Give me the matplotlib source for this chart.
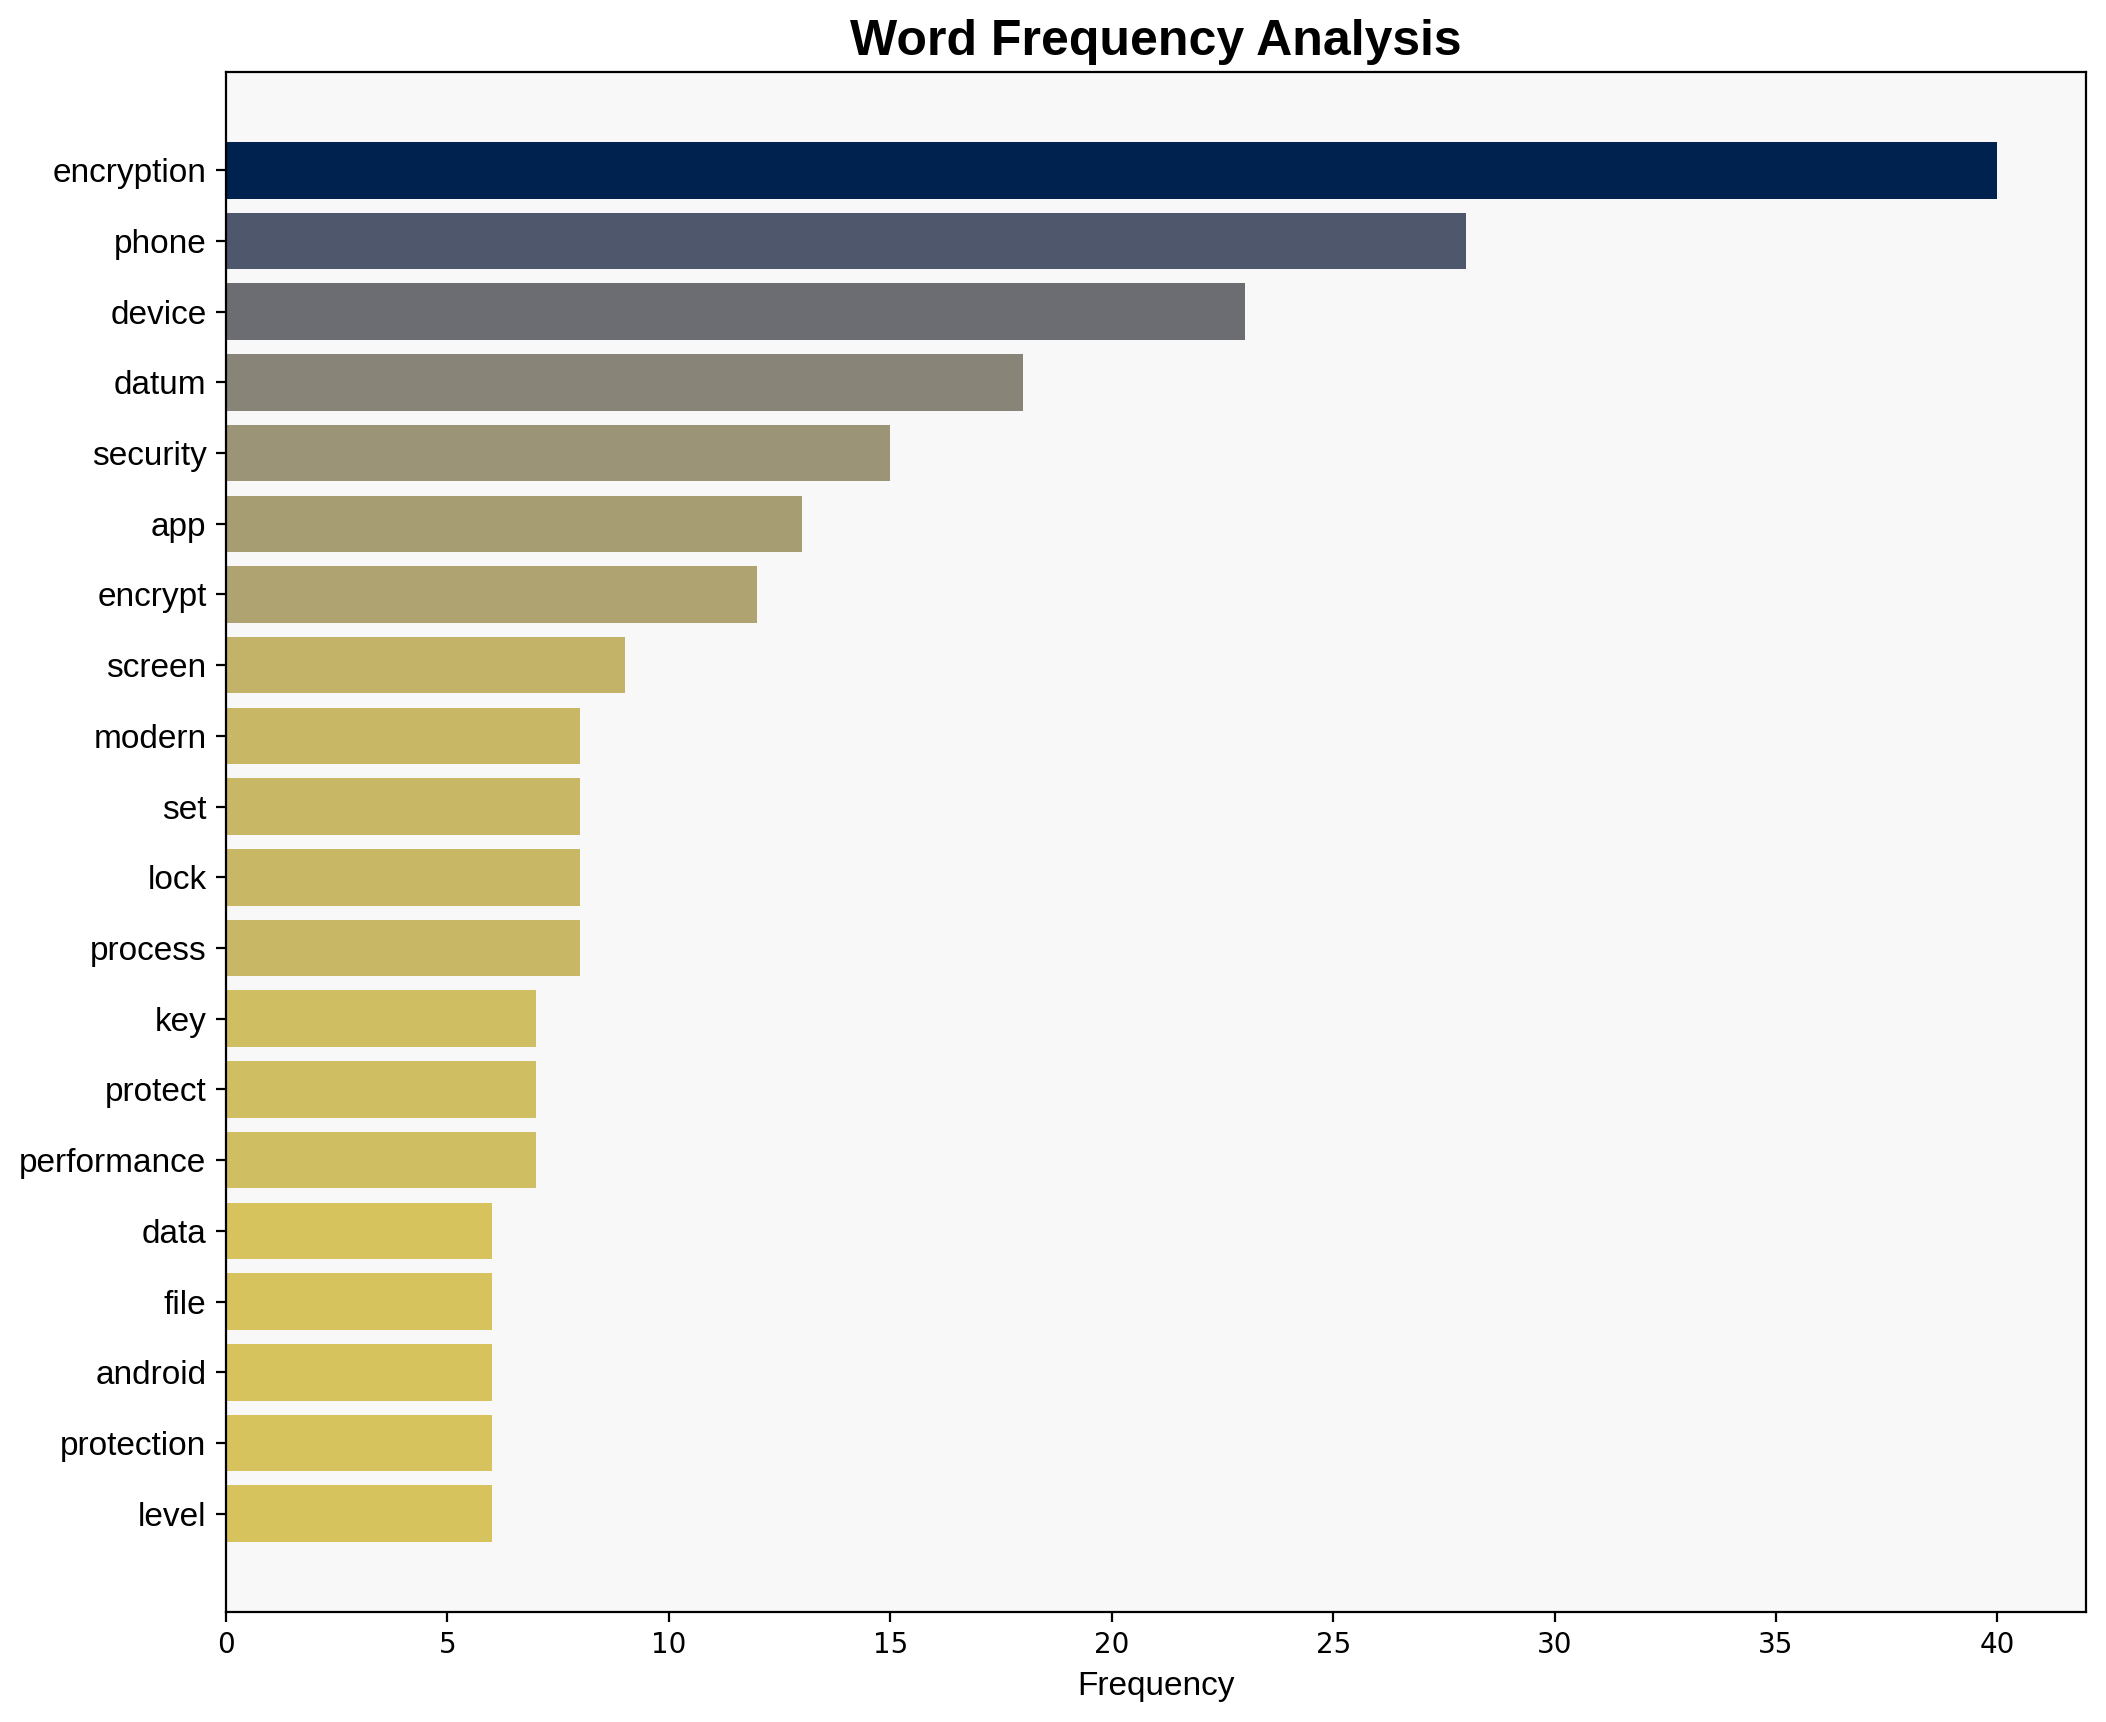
import matplotlib
matplotlib.use("Agg")
import matplotlib.pyplot as plt
import numpy as np

# 词频数据
words = ["encryption", "phone", "device", "datum", "security", "app", "encrypt",
         "screen", "modern", "set", "lock", "process", "key", "protect",
         "performance", "data", "file", "android", "protection", "level"]
counts = [40, 28, 23, 18, 15, 13, 12, 9, 8, 8, 8, 8, 7, 7, 7, 6, 6, 6, 6, 6]

fig = plt.figure(figsize=(10.53, 8.61), dpi=200)
ax = fig.add_axes([0.1073, 0.0639, 0.8832, 0.8943])
ax.set_facecolor("#f8f8f8")

vals = np.array(counts, dtype=float)
colors = plt.cm.cividis(1 - vals / vals.max())
y = np.arange(len(words))
ax.barh(y, vals, height=0.8, color=colors)
ax.set_yticks(y)
ax.set_yticklabels(words, fontsize=12, family=["Liberation Sans", "DejaVu Sans"])
ax.invert_yaxis()

ax.tick_params(axis="x", labelsize=10)
ax.set_xlabel("Frequency", fontsize=12, family=["Liberation Sans", "DejaVu Sans"])
ax.set_title("Word Frequency Analysis", fontsize=18, fontweight="bold",
             family=["Liberation Sans", "DejaVu Sans"])

fig.savefig("out.png", dpi=200)
